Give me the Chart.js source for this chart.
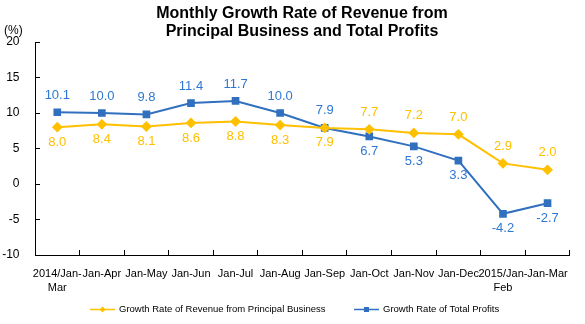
<!DOCTYPE html>
<html>
<head>
<meta charset="utf-8">
<script src="https://cdn.jsdelivr.net/npm/chart.js@4/dist/chart.umd.min.js"></script>
<style>
  html, body { margin: 0; padding: 0; background: #fff; }
  #wrap { width: 585px; height: 324px; }
</style>
</head>
<body>
<div id="wrap"><canvas id="growthChart" width="585" height="324"></canvas></div>
<script>
const periods = [['2014/Jan-', 'Mar'], 'Jan-Apr', 'Jan-May', 'Jan-Jun', 'Jan-Jul', 'Jan-Aug',
  'Jan-Sep', 'Jan-Oct', 'Jan-Nov', 'Jan-Dec', ['2015/Jan-', 'Feb'], 'Jan-Mar'];
const revenueGrowth = [8.0, 8.4, 8.1, 8.6, 8.8, 8.3, 7.9, 7.7, 7.2, 7.0, 2.9, 2.0];
const profitGrowth = [10.1, 10.0, 9.8, 11.4, 11.7, 10.0, 7.9, 6.7, 5.3, 3.3, -4.2, -2.7];
const yTicks = [-10, -5, 0, 5, 10, 15, 20];

const FONT = "'Liberation Sans', Arial, sans-serif";
const YELLOW = '#FFC000';
const BLUE = '#3070BF';

// title, unit, value labels and legend are painted by hand
const decorations = {
  id: 'decorations',
  afterDatasetsDraw(chart) {
    const ctx = chart.ctx;
    ctx.save();
    ctx.textAlign = 'center';
    ctx.textBaseline = 'middle';

    // value labels
    chart.data.datasets.forEach((ds, i) => {
      const meta = chart.getDatasetMeta(i);
      ctx.font = '13px ' + FONT;
      ctx.fillStyle = ds.labelColor;
      meta.data.forEach((pt, j) => {
        const up = ds.labelAbove[j];
        ctx.fillText(ds.data[j].toFixed(1), pt.x, pt.y + (up ? -17 : 15));
      });
    });

    // title
    ctx.fillStyle = '#000';
    ctx.font = 'bold 16px ' + FONT;
    ctx.fillText('Monthly Growth Rate of Revenue from', 302, 14);
    ctx.fillText('Principal Business and Total Profits', 302, 32);

    // unit
    ctx.font = '12px ' + FONT;
    ctx.textAlign = 'left';
    ctx.fillText('(%)', 4, 31);

    // legend
    const legendX = [90, 354];
    ctx.font = '9.5px ' + FONT;
    chart.data.datasets.forEach((ds, i) => {
      const x = legendX[i], y = 309.5;
      ctx.strokeStyle = ds.borderColor;
      ctx.lineWidth = 1.5;
      ctx.beginPath();
      ctx.moveTo(x, y);
      ctx.lineTo(x + 25, y);
      ctx.stroke();
      ctx.fillStyle = ds.borderColor;
      const cx = x + 12.5;
      if (ds.pointStyle === 'rectRot') {
        ctx.beginPath();
        ctx.moveTo(cx, y - 3);
        ctx.lineTo(cx + 3, y);
        ctx.lineTo(cx, y + 3);
        ctx.lineTo(cx - 3, y);
        ctx.closePath();
        ctx.fill();
      } else {
        ctx.fillRect(cx - 2.5, y - 2.5, 5, 5);
      }
      ctx.fillStyle = '#000';
      ctx.textAlign = 'left';
      ctx.fillText(ds.label, x + 29, y);
    });
    ctx.restore();
  }
};

new Chart(document.getElementById('growthChart').getContext('2d'), {
  type: 'line',
  data: {
    labels: periods,
    datasets: [{
      label: 'Growth Rate of Revenue from Principal Business',
      data: revenueGrowth,
      borderColor: YELLOW,
      backgroundColor: YELLOW,
      labelColor: YELLOW,
      labelAbove: [false, false, false, false, false, false, false, true, true, true, true, true],
      borderWidth: 2,
      pointStyle: 'rectRot',
      pointRadius: 4,
      tension: 0
    }, {
      label: 'Growth Rate of Total Profits',
      data: profitGrowth,
      borderColor: BLUE,
      backgroundColor: BLUE,
      labelColor: '#2F78D2',
      labelAbove: [true, true, true, true, true, true, true, false, false, false, false, false],
      borderWidth: 2,
      pointStyle: 'rect',
      pointRadius: 4,
      tension: 0
    }]
  },
  options: {
    responsive: false,
    animation: false,
    layout: { padding: { top: 42, right: 7, left: 0, bottom: 29 } },
    plugins: {
      legend: { display: false },
      title: { display: false },
      tooltip: { enabled: false }
    },
    scales: {
      x: {
        offset: true,
        // negative tick length turns the tick marks inward
        grid: { offset: true, drawOnChartArea: false, tickLength: -5, color: '#000' },
        border: { color: '#000', width: 1 },
        ticks: { font: { family: FONT, size: 11, lineHeight: 1.3 }, color: '#000', padding: 17, maxRotation: 0, autoSkip: false },
        afterFit(scale) { scale.height = 40; }
      },
      y: {
        min: -10,
        max: 20,
        afterBuildTicks(scale) { scale.ticks = yTicks.map(v => ({ value: v })); },
        grid: { drawOnChartArea: false, tickLength: -5, color: '#000' },
        border: { color: '#000', width: 1 },
        ticks: { font: { family: FONT, size: 12 }, color: '#000', padding: 20.5 },
        afterFit(scale) { scale.width = 35; }
      }
    }
  },
  plugins: [decorations]
});
</script>
</body>
</html>
